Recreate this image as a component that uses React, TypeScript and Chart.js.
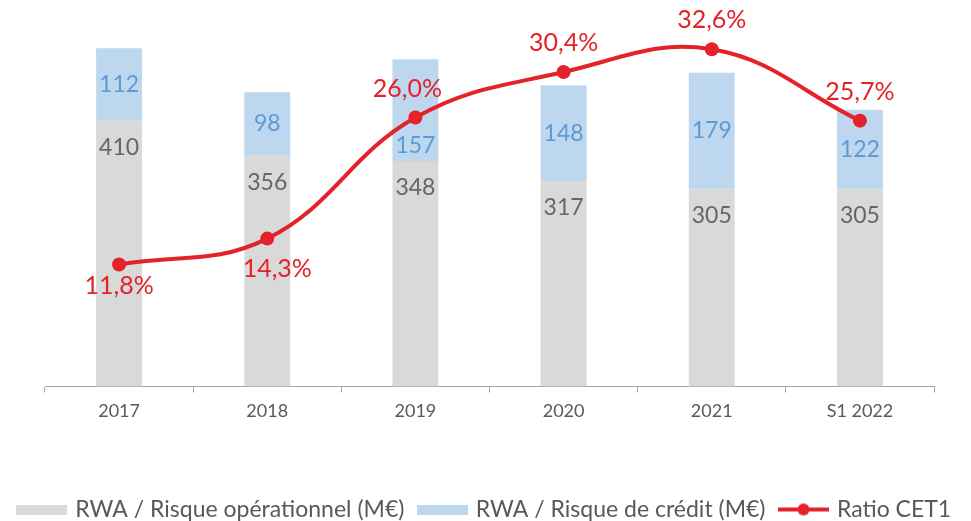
import React, { useEffect, useRef } from "react";
import { Chart, registerables } from "chart.js";

Chart.register(...registerables);

const categories = ["2017", "2018", "2019", "2020", "2021", "S1 2022"];
const operational = [410, 356, 348, 317, 305, 305];
const credit = [112, 98, 157, 148, 179, 122];
const cet1 = [11.8, 14.3, 26.0, 30.4, 32.6, 25.7];

const GRAY = "#D9D9D9";
const BLUE = "#BDD7EE";
const RED = "#E3222A";
const FONT = "Lato, 'Open Sans', sans-serif";

function makeBox(color: string) {
  const c = document.createElement("canvas");
  c.width = 51;
  c.height = 10;
  const ctx = c.getContext("2d")!;
  ctx.fillStyle = color;
  ctx.fillRect(0, 0, 51, 10);
  return c;
}

function makeLine() {
  const c = document.createElement("canvas");
  c.width = 51;
  c.height = 14;
  const ctx = c.getContext("2d")!;
  ctx.strokeStyle = RED;
  ctx.lineWidth = 4;
  ctx.beginPath();
  ctx.moveTo(0, 7);
  ctx.lineTo(51, 7);
  ctx.stroke();
  ctx.fillStyle = RED;
  ctx.beginPath();
  ctx.arc(25.5, 7, 6, 0, Math.PI * 2);
  ctx.fill();
  return c;
}

const labelPlugin = {
  id: "valueLabels",
  afterDatasetsDraw(chart: any) {
    const ctx = chart.ctx;
    ctx.save();
    ctx.textAlign = "center";
    ctx.textBaseline = "middle";
    ctx.font = `23px ${FONT}`;
    const m0 = chart.getDatasetMeta(0);
    m0.data.forEach((bar: any, i: number) => {
      ctx.fillStyle = "#666666";
      ctx.fillText(String(operational[i]), bar.x, bar.y + 27);
    });
    const m1 = chart.getDatasetMeta(1);
    m1.data.forEach((bar: any, i: number) => {
      ctx.fillStyle = "#5B9BD5";
      let y = (bar.y + bar.base) / 2;
      if (i === 2) y = bar.base - 15;
      ctx.fillText(String(credit[i]), bar.x, y);
    });
    ctx.font = `25px ${FONT}`;
    const m2 = chart.getDatasetMeta(2);
    m2.data.forEach((pt: any, i: number) => {
      ctx.fillStyle = RED;
      const txt = cet1[i].toFixed(1).replace(".", ",") + "%";
      let y = pt.y - 29;
      let x = pt.x;
      if (i === 0) y = pt.y + 21;
      if (i === 1) {
        y = pt.y + 30;
        x = pt.x + 10;
      }
      if (i === 2) x = pt.x - 8;
      ctx.fillText(txt, x, y);
    });
    ctx.restore();
  },
};

export default function App() {
  const ref = useRef<HTMLCanvasElement | null>(null);
  useEffect(() => {
    if (!ref.current) return;
    const grayImg = makeBox(GRAY);
    const blueImg = makeBox(BLUE);
    const lineImg = makeLine();
    const chart = new Chart(ref.current, {
      type: "bar",
      data: {
        labels: categories,
        datasets: [
          {
            type: "bar",
            label: "RWA / Risque opérationnel (M€)",
            data: operational,
            backgroundColor: GRAY,
            yAxisID: "y",
            stack: "s",
            order: 2,
            barPercentage: 0.31,
            categoryPercentage: 1,
          },
          {
            type: "bar",
            label: "RWA / Risque de crédit (M€)",
            data: credit,
            backgroundColor: BLUE,
            yAxisID: "y",
            stack: "s",
            order: 2,
            barPercentage: 0.31,
            categoryPercentage: 1,
          },
          {
            type: "line",
            label: "Ratio CET1",
            data: cet1,
            borderColor: RED,
            backgroundColor: RED,
            borderWidth: 4,
            pointRadius: 7,
            pointHoverRadius: 7,
            pointBackgroundColor: RED,
            pointBorderWidth: 0,
            tension: 0.4,
            yAxisID: "y1",
            order: 0,
          } as any,
        ],
      },
      options: {
        animation: false,
        responsive: true,
        maintainAspectRatio: false,
        layout: { padding: { top: 10, left: 0, right: 0, bottom: -10 } },
        scales: {
          x: {
            stacked: true,
            offset: true,
            grid: {
              display: true,
              drawOnChartArea: false,
              drawTicks: true,
              tickLength: 6,
              color: "#A6A6A6",
              offset: true,
            },
            border: { display: true, color: "#A6A6A6", width: 1 },
            ticks: {
              color: "#595959",
              font: { family: FONT, size: 18 },
              padding: 8,
            },
            afterFit: (s: any) => {
              s.height = 95.5;
            },
          },
          y: {
            stacked: true,
            display: true,
            min: 0,
            max: 581,
            ticks: { display: false },
            grid: { display: false },
            border: { display: false },
            afterFit: (s: any) => {
              s.width = 45;
            },
          },
          y1: {
            display: true,
            min: 0,
            max: 36.4,
            position: "right",
            ticks: { display: false },
            grid: { display: false },
            border: { display: false },
            afterFit: (s: any) => {
              s.width = 37;
            },
          },
        },
        plugins: {
          legend: {
            position: "bottom",
            labels: {
              usePointStyle: true,
              pointStyleWidth: 44,
              boxHeight: 10,
              color: "#595959",
              font: { family: FONT, size: 23 },
              padding: 16,
              generateLabels: (ch: any) => {
                const imgs = [grayImg, blueImg, lineImg];
                return ch.data.datasets.map((ds: any, i: number) => ({
                  text: ds.label,
                  fillStyle: ds.backgroundColor,
                  strokeStyle: ds.backgroundColor,
                  lineWidth: 0,
                  pointStyle: imgs[i],
                  datasetIndex: i,
                  hidden: false,
                  fontColor: "#595959",
                }));
              },
            },
          },
          tooltip: { enabled: false },
        },
      },
      plugins: [labelPlugin],
    });
    return () => chart.destroy();
  }, []);
  return (
    <div style={{ position: "absolute", left: 0, top: 0, width: 971, height: 521 }}>
      <canvas ref={ref} />
    </div>
  );
}
